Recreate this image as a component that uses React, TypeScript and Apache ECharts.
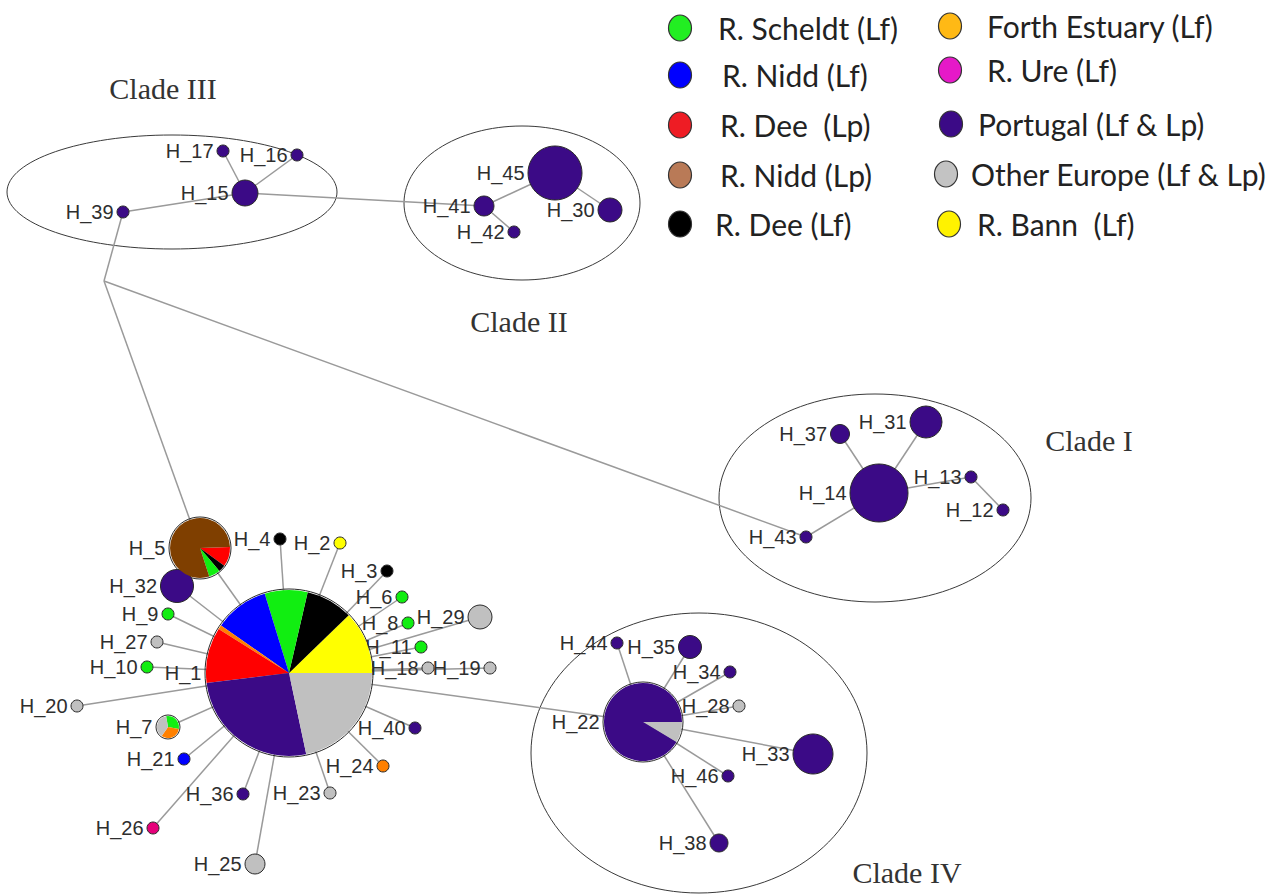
import React, { useEffect, useRef } from "react";
import * as echarts from "echarts";

// ---------- data ----------
const populations = [
  "R. Scheldt (Lf)",
  "R. Nidd (Lf)",
  "R. Dee  (Lp)",
  "R. Nidd (Lp)",
  "R. Dee (Lf)",
  "Forth Estuary (Lf)",
  "R. Ure (Lf)",
  "Portugal (Lf & Lp)",
  "Other Europe (Lf & Lp)",
  "R. Bann  (Lf)",
];
const legendColors = ["#22ee22", "#0000ff", "#ee1c24", "#b97a57", "#000000", "#ffb915", "#e619c8", "#3b0a86", "#c3c3c3", "#fff200"];
const nodeColors: Record<string, string> = {
  scheldt: "#11ee11",
  niddLf: "#0000ff",
  deeLp: "#ff0000",
  niddLp: "#7f3f00",
  deeLf: "#000000",
  forth: "#ff8000",
  ure: "#e6007a",
  portugal: "#3b0a86",
  other: "#c0c0c0",
  bann: "#ffff00",
};

// haplotype network layout (coordinates)
const nodeNames = [
  "H_1", "H_2", "H_3", "H_4", "H_5", "H_6", "H_7", "H_8", "H_9", "H_10",
  "H_11", "H_12", "H_13", "H_14", "H_15", "H_16", "H_17", "H_18", "H_19", "H_20",
  "H_21", "H_22", "H_23", "H_24", "H_25", "H_26", "H_27", "H_28", "H_29", "H_30",
  "H_31", "H_32", "H_33", "H_34", "H_35", "H_36", "H_37", "H_38", "H_39", "H_40",
  "H_41", "H_42", "H_43", "H_44", "H_45", "H_46", "mv",
];
const nodeX = [
  289, 340, 387, 280, 200, 402, 168, 408, 168, 147,
  421, 1003, 971, 879, 245, 297, 223, 428, 490, 77,
  184, 643, 330, 383, 255, 153, 157, 739, 480, 610,
  926, 177, 813, 730, 690, 243, 840, 719, 123, 415,
  484, 514, 806, 617, 555, 728, 104,
];
const nodeY = [
  673, 543, 571, 539, 548, 597, 727, 623, 614, 667,
  647, 510, 477, 493, 193, 155, 151, 668, 668, 706,
  759, 722, 793, 766, 864, 828, 642, 706, 617, 210,
  422, 586, 754, 672, 647, 794, 434, 843, 212, 728,
  206, 232, 537, 643, 173, 776, 281,
];
const nodeDiameter = [
  166, 12, 12, 12, 60, 12, 22, 12, 12, 12,
  12, 12, 12, 58, 26, 12, 12, 12, 12, 12,
  12, 78, 12, 12, 20, 12, 12, 12, 24, 24,
  32, 33, 40, 12, 23, 12, 19, 18, 12, 12,
  20, 12, 12, 12, 54, 12, 0,
];
const nodePop = [
  "pie", "bann", "deeLf", "deeLf", "pie", "scheldt", "pie", "scheldt", "scheldt", "scheldt",
  "scheldt", "portugal", "portugal", "portugal", "portugal", "portugal", "portugal", "other", "other", "other",
  "niddLf", "pie", "other", "forth", "other", "ure", "other", "other", "other", "portugal",
  "portugal", "portugal", "portugal", "portugal", "portugal", "portugal", "portugal", "portugal", "portugal", "portugal",
  "portugal", "portugal", "portugal", "portugal", "portugal", "portugal", "none",
];

const edgeSource = [
  "H_15", "H_15", "H_15", "H_15", "H_41", "H_41", "H_45",
  "H_39", "mv", "mv",
  "H_43", "H_14", "H_14", "H_14", "H_13",
  "H_1", "H_1", "H_1", "H_1", "H_1", "H_1", "H_1", "H_1", "H_1", "H_1", "H_1", "H_1",
  "H_1", "H_1", "H_1", "H_1", "H_1", "H_1", "H_1", "H_1", "H_1", "H_1", "H_1", "H_1",
  "H_22", "H_22", "H_22", "H_22", "H_22", "H_22", "H_22",
];
const edgeTarget = [
  "H_17", "H_16", "H_39", "H_41", "H_45", "H_42", "H_30",
  "mv", "H_5", "H_43",
  "H_14", "H_37", "H_31", "H_13", "H_12",
  "H_5", "H_32", "H_4", "H_2", "H_3", "H_6", "H_8", "H_29", "H_11", "H_18", "H_19", "H_40",
  "H_24", "H_23", "H_25", "H_36", "H_26", "H_21", "H_7", "H_20", "H_10", "H_27", "H_9", "H_22",
  "H_44", "H_35", "H_34", "H_28", "H_33", "H_46", "H_38",
];

// pie compositions (angular share)
const pieH1Pops = ["bann", "deeLf", "scheldt", "niddLf", "forth", "deeLp", "portugal", "other"];
const pieH1Vals = [44, 33, 30, 38, 3, 39, 95, 78];
const pieH5Pops = ["deeLp", "deeLf", "scheldt", "niddLp"];
const pieH5Vals = [38, 14, 22, 286];
const pieH7Pops = ["scheldt", "forth", "other"];
const pieH7Vals = [110, 115, 135];
const pieH22Pops = ["other", "portugal"];
const pieH22Vals = [31, 329];

const cladeNames = ["Clade III", "Clade II", "Clade I", "Clade IV"];
const cladeCx = [172, 522, 875, 699];
const cladeCy = [192, 203, 498, 753];
const cladeRx = [165, 118, 156, 168];
const cladeRy = [57, 77, 104, 140];
const cladeLabelX = [163, 519, 1089, 907];
const cladeLabelY = [88, 321, 440, 872];

export default function App() {
  const ref = useRef<HTMLDivElement>(null);
  useEffect(() => {
    if (!ref.current) return;
    const chart = echarts.init(ref.current, null, { renderer: "svg" });

    const nodes = nodeNames.map((n, i) => {
      const pop = nodePop[i];
      const isPie = pop === "pie";
      const isMv = pop === "none";
      return {
        name: n,
        value: [nodeX[i], nodeY[i]],
        symbolSize: isPie ? nodeDiameter[i] + 2 : nodeDiameter[i],
        itemStyle: {
          color: isPie || isMv ? "rgba(0,0,0,0)" : nodeColors[pop],
          borderColor: isMv ? "rgba(0,0,0,0)" : "#2a2a2a",
          borderWidth: isMv ? 0 : 1,
        },
        label: { show: !isMv },
      };
    });
    const links = edgeSource.map((s, i) => ({ source: s, target: edgeTarget[i] }));

    chart.setOption({
      animation: false,
      backgroundColor: "#ffffff",
      grid: { left: 0, right: 0, top: 0, bottom: 0 },
      xAxis: { type: "value", min: 0, max: 1270, show: false },
      yAxis: { type: "value", min: 0, max: 896, inverse: true, show: false },
      series: [
        {
          type: "graph",
          coordinateSystem: "cartesian2d",
          layout: "none",
          silent: true,
          z: 2,
          data: nodes,
          links,
          symbol: "circle",
          edgeSymbol: ["none", "none"],
          lineStyle: { color: "#9a9a9a", width: 1.5, opacity: 1, curveness: 0 },
          label: {
            show: true,
            position: "left",
            distance: 3,
            formatter: "{b}",
            fontFamily: "Liberation Sans",
            fontSize: 20,
            color: "#2e2e2e",
          },
          emphasis: { disabled: true },
        },
      ],
    });

    const px = (x: number, y: number) => chart.convertToPixel({ gridIndex: 0 }, [x, y]) as number[];
    const idx = (n: string) => nodeNames.indexOf(n);
    const makePie = (name: string, pops: string[], vals: number[], startAngle: number, clockwise: boolean) => {
      const i = idx(name);
      const c = px(nodeX[i], nodeY[i]);
      return {
        type: "pie",
        silent: true,
        z: 3,
        center: [c[0], c[1]],
        radius: nodeDiameter[i] / 2,
        startAngle,
        clockwise,
        label: { show: false },
        labelLine: { show: false },
        emphasis: { disabled: true },
        itemStyle: { borderWidth: 0 },
        data: pops.map((p, k) => ({ name: name + p, value: vals[k], itemStyle: { color: nodeColors[p] } })),
      };
    };

    const graphics: any[] = [];
    cladeNames.forEach((c, i) => {
      const ctr = px(cladeCx[i], cladeCy[i]);
      const edge = px(cladeCx[i] + cladeRx[i], cladeCy[i] + cladeRy[i]);
      graphics.push({
        type: "ellipse",
        z: 1,
        shape: { cx: ctr[0], cy: ctr[1], rx: Math.abs(edge[0] - ctr[0]), ry: Math.abs(edge[1] - ctr[1]) },
        style: { fill: "none", stroke: "#3a3a3a", lineWidth: 1 },
        silent: true,
      });
      const lp = px(cladeLabelX[i], cladeLabelY[i]);
      graphics.push({
        type: "text",
        z: 5,
        x: lp[0],
        y: lp[1],
        style: {
          text: c,
          fontFamily: "Liberation Serif",
          fontSize: 30,
          fill: "#333333",
          align: "center",
          verticalAlign: "middle",
        },
      });
    });

    const legCircleX = [680, 680, 680, 680, 680, 950, 950, 951, 946, 949];
    const legTextX = [718, 722, 720, 720, 715, 987, 987, 978, 971, 977];
    const legRowY = [28, 75, 125, 175, 224, 26, 70, 124, 174, 224];
    populations.forEach((p, i) => {
      graphics.push({
        type: "ellipse",
        z: 5,
        shape: { cx: legCircleX[i], cy: legRowY[i], rx: 11.5, ry: 13 },
        style: { fill: legendColors[i], stroke: "#333", lineWidth: 1.2 },
      });
      graphics.push({
        type: "text",
        z: 5,
        x: legTextX[i],
        y: legRowY[i],
        style: {
          text: p,
          fontFamily: "Lato",
          fontSize: 30,
          fill: "#222222",
          align: "left",
          verticalAlign: "middle",
        },
      });
    });

    chart.setOption({
      series: [
        {},
        makePie("H_1", pieH1Pops, pieH1Vals, 0, false),
        makePie("H_5", pieH5Pops, pieH5Vals, 2, true),
        makePie("H_7", pieH7Pops, pieH7Vals, 100, true),
        makePie("H_22", pieH22Pops, pieH22Vals, 0, true),
      ],
      graphic: graphics,
    });

    return () => chart.dispose();
  }, []);

  return (
    <div
      ref={ref}
      style={{ position: "fixed", left: 0, top: 0, width: 1270, height: 896, background: "#fff" }}
    />
  );
}
